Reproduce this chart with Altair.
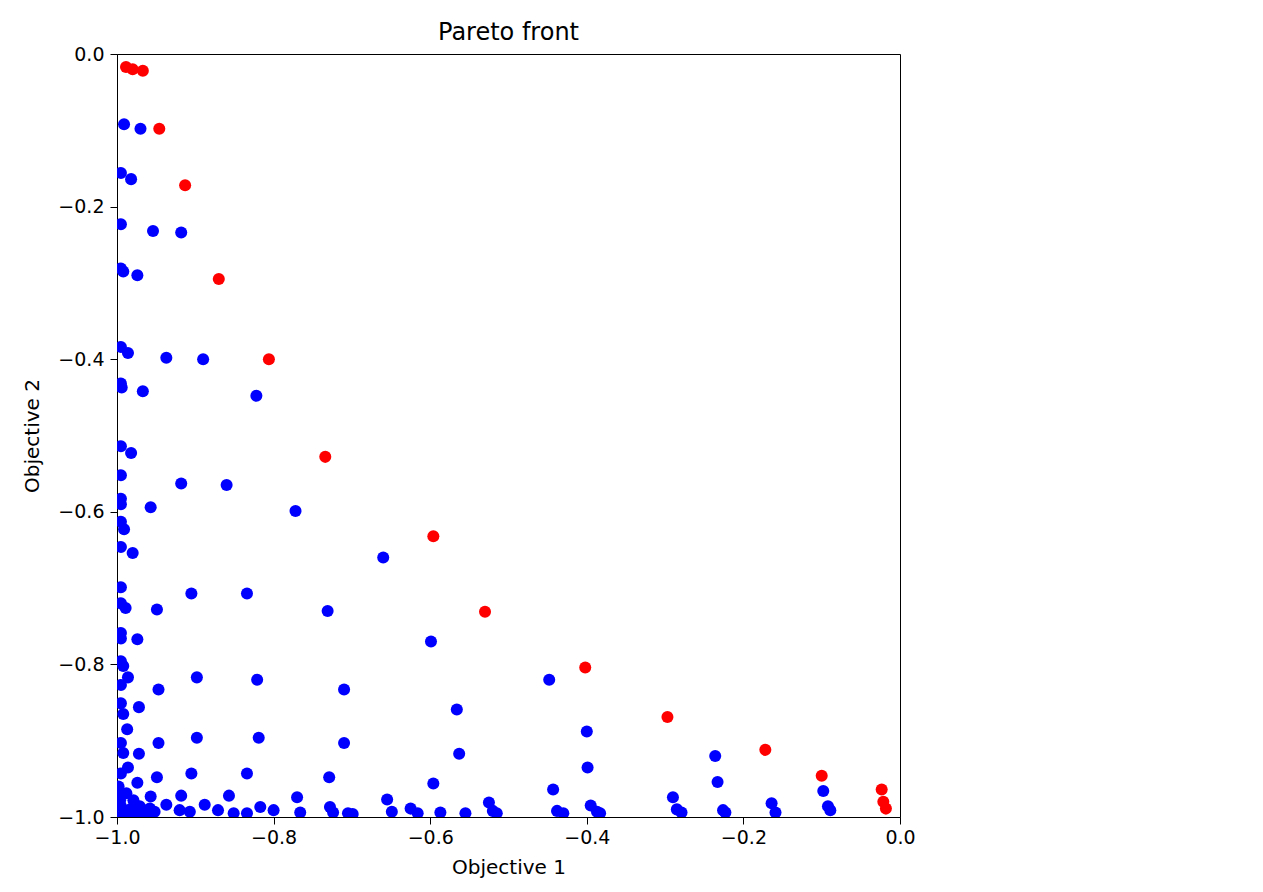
import altair as alt
import pandas as pd

# Dominated solutions (blue)
blue_x = [-0.991, -0.970, -0.995, -0.982, -0.995, -0.954, -0.918, -0.995, -0.992, -0.974,
          -0.995, -0.986, -0.937, -0.890, -0.995, -0.994, -0.967, -0.822,
          -0.995, -0.982, -0.995, -0.918, -0.860, -0.995, -0.995, -0.957, -0.772,
          -0.995, -0.991, -0.995, -0.980, -0.660,
          -0.995, -0.905, -0.834, -0.995, -0.989, -0.949, -0.731,
          -0.995, -0.995, -0.974, -0.995, -0.992, -0.986, -0.995, -0.947, -0.898, -0.821, -0.710,
          -0.995, -0.992, -0.972, -0.987, -0.995, -0.992, -0.947, -0.898, -0.819, -0.710,
          -0.972, -0.986, -0.995, -0.974, -0.949, -0.905, -0.834, -0.729,
          -0.957, -0.918, -0.857, -0.770,
          -0.995, -0.988, -0.979, -0.995, -0.971, -0.958, -0.937, -0.952, -0.920, -0.907,
          -0.888, -0.871, -0.851, -0.834, -0.817, -0.800, -0.766, -0.728, -0.724, -0.705,
          -1.000, -0.990, -0.983, -0.998, -0.965, -0.985, -0.975, -0.996, -0.978, -0.962,
          -0.599, -0.448, -0.566, -0.400, -0.563, -0.399, -0.596, -0.443,
          -0.655, -0.525, -0.395,
          -0.699, -0.649, -0.625, -0.616, -0.587, -0.555, -0.520, -0.515,
          -0.438, -0.430, -0.387, -0.383,
          -0.236, -0.233, -0.290, -0.285, -0.279, -0.226, -0.223,
          -0.164, -0.159, -0.098, -0.092, -0.089]
blue_y = [-0.092, -0.098, -0.156, -0.164, -0.223, -0.232, -0.234, -0.281, -0.285, -0.290,
          -0.384, -0.392, -0.398, -0.400, -0.432, -0.437, -0.442, -0.448,
          -0.514, -0.523, -0.552, -0.563, -0.565, -0.583, -0.590, -0.594, -0.599,
          -0.613, -0.623, -0.646, -0.654, -0.660,
          -0.699, -0.707, -0.707, -0.720, -0.726, -0.728, -0.730,
          -0.759, -0.766, -0.767, -0.796, -0.802, -0.817, -0.827, -0.833, -0.817, -0.820, -0.833,
          -0.851, -0.865, -0.856, -0.885, -0.903, -0.916, -0.903, -0.896, -0.896, -0.903,
          -0.917, -0.935, -0.943, -0.955, -0.948, -0.943, -0.943, -0.948,
          -0.973, -0.972, -0.972, -0.974,
          -0.969, -0.969, -0.978, -0.986, -0.986, -0.989, -0.984, -0.993, -0.991, -0.993,
          -0.984, -0.991, -0.995, -0.995, -0.987, -0.991, -0.994, -0.987, -0.994, -0.995,
          -1.000, -0.997, -0.990, -0.960, -0.995, -0.998, -0.999, -0.978, -0.992, -0.999,
          -0.770, -0.820, -0.859, -0.888, -0.917, -0.935, -0.956, -0.964,
          -0.977, -0.981, -0.985,
          -0.996, -0.993, -0.989, -0.995, -0.994, -0.995, -0.992, -0.995,
          -0.992, -0.995, -0.993, -0.995,
          -0.920, -0.954, -0.974, -0.990, -0.994, -0.991, -0.994,
          -0.982, -0.994, -0.966, -0.986, -0.991]

# Pareto front (red)
red_x = [-0.9885, -0.980, -0.967, -0.946, -0.913, -0.870, -0.806, -0.734, -0.596,
         -0.530, -0.402, -0.297, -0.172, -0.100, -0.0234, -0.0213, -0.018]
red_y = [-0.017, -0.020, -0.022, -0.098, -0.172, -0.295, -0.400, -0.528, -0.632,
         -0.731, -0.804, -0.869, -0.912, -0.946, -0.964, -0.980, -0.989]

blue_df = pd.DataFrame({"o1": blue_x, "o2": blue_y})
red_df = pd.DataFrame({"o1": red_x, "o2": red_y})

ticks = [-1.0, -0.8, -0.6, -0.4, -0.2, 0.0]
FONT = "DejaVu Sans"

x_enc = alt.X("o1:Q", title="Objective 1",
              scale=alt.Scale(domain=[-1, 0], nice=False, zero=False),
              axis=alt.Axis(values=ticks, format=".1f", grid=False, labelFlush=False,
                            tickSize=7, labelPadding=4, titlePadding=10,
                            labelFontSize=19, titleFontSize=20))
y_enc = alt.Y("o2:Q", title="Objective 2",
              scale=alt.Scale(domain=[-1, 0], nice=False, zero=False),
              axis=alt.Axis(values=ticks, format=".1f", grid=False, labelFlush=False,
                            tickSize=7, labelPadding=6, titlePadding=15,
                            labelFontSize=19, titleFontSize=20))

blue = alt.Chart(blue_df).mark_circle(color="#0000ff", opacity=1, size=145, clip=True).encode(x=x_enc, y=y_enc)
red = alt.Chart(red_df).mark_circle(color="#ff0000", opacity=1, size=145, clip=True).encode(x=x_enc, y=y_enc)

chart = (blue + red).properties(
    width=783, height=763,
    title=alt.TitleParams("Pareto front", fontSize=24, font=FONT, fontWeight="normal",
                          color="#000000", offset=0),
    padding={"left": 117, "top": 54, "right": 60, "bottom": 75},
    autosize="none",
    background="#ffffff",
).configure_view(
    stroke="#000000", strokeWidth=1
).configure_axis(
    labelFont=FONT, titleFont=FONT, labelColor="#000000", titleColor="#000000",
    domainColor="#000000", tickColor="#000000", titleFontWeight="normal",
    domainWidth=1, tickWidth=1
)

chart.save("out.html", embed_options={"renderer": "svg", "actions": False})
